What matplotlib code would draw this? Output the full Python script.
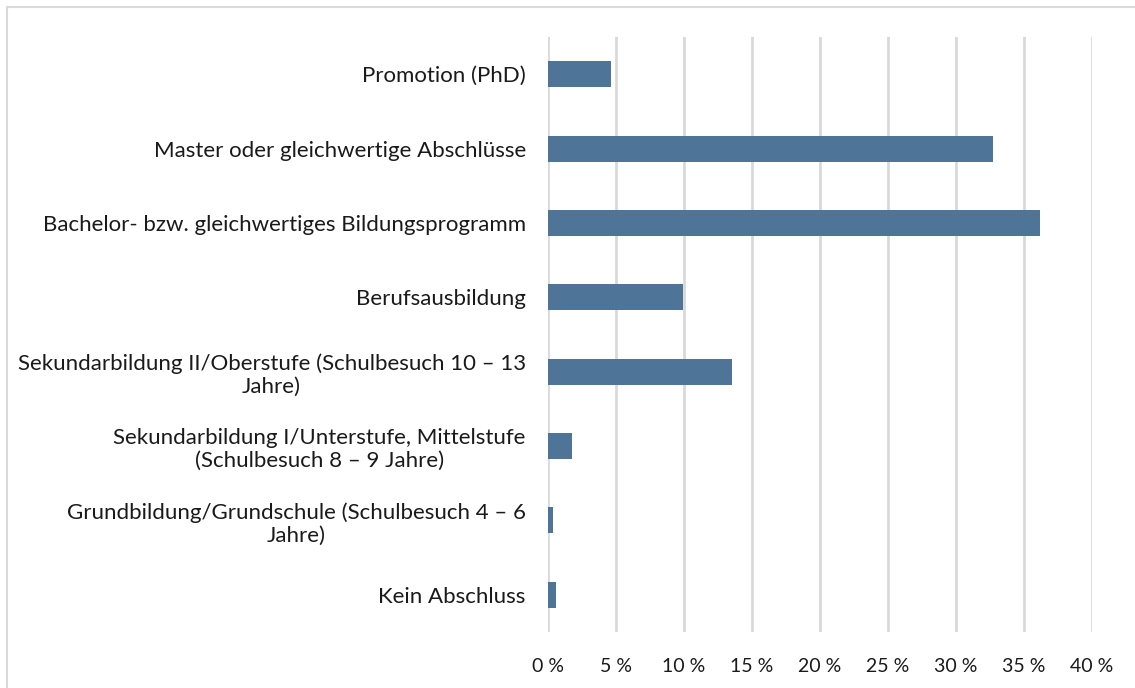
import matplotlib
matplotlib.use("Agg")
import matplotlib.pyplot as plt
from matplotlib.patches import Rectangle
from matplotlib.ticker import FuncFormatter, MultipleLocator

# categories from bottom to top
categories = [
    "Kein Abschluss",
    "Grundbildung/Grundschule (Schulbesuch 4 – 6\nJahre)",
    "Sekundarbildung I/Unterstufe, Mittelstufe\n(Schulbesuch 8 – 9 Jahre)",
    "Sekundarbildung II/Oberstufe (Schulbesuch 10 – 13\nJahre)",
    "Berufsausbildung",
    "Bachelor- bzw. gleichwertiges Bildungsprogramm",
    "Master oder gleichwertige Abschlüsse",
    "Promotion (PhD)",
]
shares = [0.6, 0.37, 1.75, 13.5, 9.95, 36.2, 32.7, 4.65]

bar_color = "#4e7598"
grid_color = "#d9d9d9"
text_color = "#1a1a1a"

plt.rcParams["font.family"] = ["Lato", "DejaVu Sans"]

fig = plt.figure(figsize=(11.35, 6.88), dpi=100)
W, H = 1135, 688
ax = fig.add_axes([548 / W, 1 - 632 / H, (1092 - 548) / W, (632 - 37) / H])

# outer frame of the chart
fig.patches.append(Rectangle((7 / W, -0.1), 1.2, 1 - 7 / H + 0.1, transform=fig.transFigure,
                             fill=False, edgecolor=grid_color, linewidth=1.5))

ypos = range(len(categories))
ax.barh(ypos, shares, height=0.35, color=bar_color, zorder=3)

ax.set_xlim(0, 40)
ax.set_ylim(-0.5, len(categories) - 0.5)
ax.xaxis.set_major_locator(MultipleLocator(5))
ax.xaxis.set_major_formatter(FuncFormatter(lambda v, p: "%d %%" % v))
ax.grid(axis="x", color=grid_color, linewidth=2, zorder=0)

ax.set_yticks(list(ypos))
ax.set_yticklabels(categories, fontsize=16, color=text_color,
                   multialignment="center", linespacing=1.2)
for lbl in ax.get_xticklabels():
    lbl.set_fontsize(14)
    lbl.set_color(text_color)

ax.tick_params(axis="y", length=0, pad=16)
ax.tick_params(axis="x", length=0, pad=19)
for s in ax.spines.values():
    s.set_visible(False)

fig.savefig("out.png", dpi=100)
